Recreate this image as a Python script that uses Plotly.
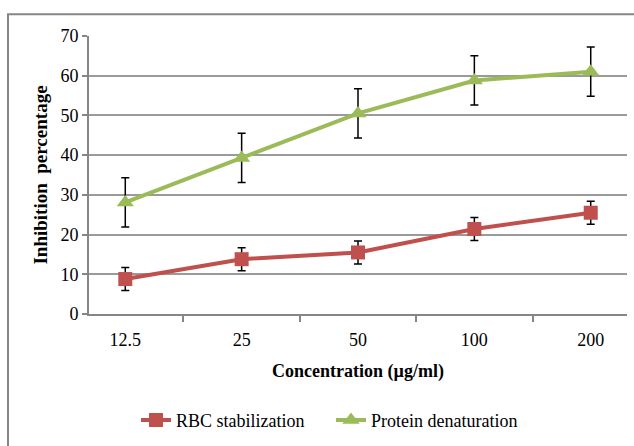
import plotly.graph_objects as go

concentrations = ["12.5", "25", "50", "100", "200"]
rbc_values = [8.8, 13.8, 15.5, 21.4, 25.5]
rbc_errors = [2.9, 2.9, 2.9, 2.9, 2.9]
protein_values = [28.1, 39.3, 50.5, 58.8, 61.0]
protein_errors = [6.2, 6.2, 6.2, 6.2, 6.2]

RED = "#C0504D"
GREEN = "#9BBB59"
FONT = "Times New Roman, Liberation Serif, serif"

fig = go.Figure()
fig.add_trace(go.Scatter(
    x=concentrations, y=rbc_values, name="RBC stabilization",
    mode="lines+markers",
    line=dict(color=RED, width=4),
    marker=dict(symbol="square", size=14, color=RED),
    error_y=dict(type="data", array=rbc_errors, color="black", thickness=1.5, width=4),
))
fig.add_trace(go.Scatter(
    x=concentrations, y=protein_values, name="Protein denaturation",
    mode="lines+markers",
    line=dict(color=GREEN, width=4),
    marker=dict(symbol="triangle-up", size=15, color=GREEN),
    error_y=dict(type="data", array=protein_errors, color="black", thickness=1.5, width=4),
))

W, H = 634, 446
L, R, T, B = 89, 7, 36, 130
pw, ph = W - L - R, H - T - B

def px(x):
    return (x - L) / pw

def py(y):
    return (H - B - y) / ph

fig.add_shape(type="path", xref="paper", yref="paper",
              path=f"M {px(8)} {py(450)} L {px(8)} {py(14)} L {px(640)} {py(14)}",
              line=dict(color="#868686", width=2))

fig.update_layout(
    width=W, height=H,
    margin=dict(l=L, r=R, t=T, b=B),
    paper_bgcolor="white", plot_bgcolor="white",
    font=dict(family=FONT, size=18, color="black"),
    showlegend=True,
    legend=dict(orientation="h", x=px(136), xanchor="left", y=py(423), yanchor="middle",
                font=dict(family=FONT, size=18), tracegroupgap=0, entrywidth=150),
    xaxis=dict(
        type="category", showline=True, linecolor="#868686", linewidth=2,
        ticks="outside", tickson="boundaries", ticklen=6, tickcolor="#868686", tickwidth=2,
        showgrid=False, ticklabelstandoff=8,
        tickfont=dict(family=FONT, size=18),
        title=dict(text="<b>Concentration (µg/ml)</b>", font=dict(family=FONT, size=18), standoff=16),
    ),
    yaxis=dict(
        range=[0, 70], dtick=10, showline=True, linecolor="#868686", linewidth=2,
        ticks="outside", ticklen=5, tickcolor="#868686", tickwidth=2,
        showgrid=True, gridcolor="#9a9a9a", gridwidth=1.5,
        zeroline=False,
        tickfont=dict(family=FONT, size=18),
        title=dict(text="<b>Inhibition\u00a0\u00a0percentage</b>", font=dict(family=FONT, size=19), standoff=8),
    ),
)

fig.write_html("out.html")
